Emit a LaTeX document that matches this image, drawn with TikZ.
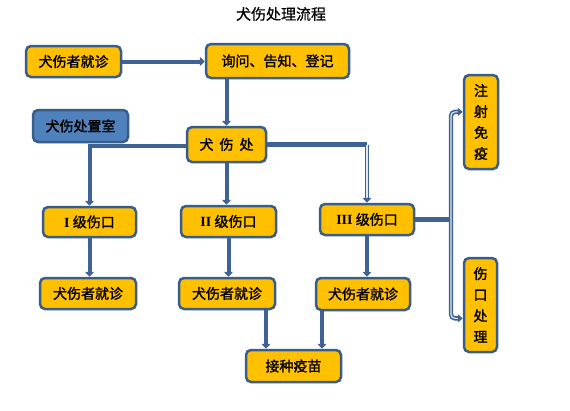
\documentclass[tikz,border=0pt]{standalone}
\usepackage{fontspec}
\newfontfamily\cjk[FakeBold=1.6]{Noto Sans CJK SC}
\newfontfamily\cjkt[FakeBold=0.6]{Noto Sans CJK SC}
\newfontfamily\numf{Liberation Serif}
\usetikzlibrary{arrows.meta,calc}
\definecolor{gold}{RGB}{255,192,0}
\definecolor{edge}{RGB}{56,93,138}
\definecolor{steel}{RGB}{79,129,189}
\definecolor{conn}{RGB}{62,98,148}

\begin{document}
\begin{tikzpicture}[x=1pt, y=-1pt,
  box/.style={draw=edge, fill=gold, line width=2.5pt, rounded corners=5pt,
    inner sep=0pt, font=\cjk\fontsize{14}{21}\selectfont, align=center},
  room/.style={box, fill=steel},
  flow/.style={conn, line width=4pt, -{Triangle[width=9pt,length=5pt]}},
  bar/.style={conn, line width=5pt},
  link/.style={conn, line width=1.6pt, double=white!85!conn, double distance=1.2pt},
]
  \useasboundingbox (0,0) rectangle (570,410);

  \node[font=\cjkt\fontsize{15}{18}\selectfont] (title) at (281,14) {犬伤处理流程};

  \node[box, minimum width=95pt, minimum height=31pt] (visit) at (73.5,61.5) {犬伤者就诊};
  \node[box, minimum width=143pt, minimum height=34pt] (reg) at (277.5,61) {询问、告知、登记};
  \node[room, minimum width=95pt, minimum height=32pt] (room) at (80.5,126) {犬伤处置室};
  \node[box, minimum width=79pt, minimum height=35pt] (dept) at (226.5,144.5) {犬\hspace{6pt}伤\hspace{6pt}处};

  \node[box, minimum width=93pt, minimum height=30pt] (g1) at (89.5,222) {{\numf\bfseries I} 级伤口};
  \node[box, minimum width=95pt, minimum height=31pt] (g2) at (228.5,221.5) {{\numf\bfseries II} 级伤口};
  \node[box, minimum width=94pt, minimum height=31pt] (g3) at (367,219.5) {{\numf\bfseries III} 级伤口};

  \node[box, minimum width=96pt, minimum height=31pt] (v1) at (88,293.5) {犬伤者就诊};
  \node[box, minimum width=96pt, minimum height=31pt] (v2) at (227,293.5) {犬伤者就诊};
  \node[box, minimum width=94pt, minimum height=32pt] (v3) at (363,294) {犬伤者就诊};
  \node[box, minimum width=95pt, minimum height=32pt] (vac) at (293.5,366) {接种疫苗};

  \node[box, minimum width=34pt, minimum height=94pt] (imm) at (481,122) {注\\射\\免\\疫};
  \node[box, minimum width=33pt, minimum height=94pt] (wound) at (480.5,305) {伤\\口\\处\\理};

  \coordinate (fork) at (451,216);

  \draw[flow] (visit.east) -- (visit.east -| reg.west);
  \draw[flow] (reg.south -| dept.north) -- (dept.north);
  \draw[flow] ($(dept.west)+(0,1.5)$) -| (g1.north);
  \draw[flow] (dept.south) -- (dept.south |- g2.north);
  \draw[bar] (dept.east) -- (dept.east -| g3.north);
  \draw[link, -{Triangle[width=9pt,length=5pt]}] (dept.east -| g3.north) -- (g3.north);

  \draw[flow] (g1.south) -- (g1.south |- v1.north);
  \draw[flow] (g2.south) -- (g2.south |- v2.north);
  \draw[flow] (g3.south) -- (g3.south |- v3.north);

  \draw[flow] ($(v2.south)+(39,0)$) -- ($(vac.north)+(-27.5,0)$);
  \draw[flow] ($(v3.south)+(-41,0)$) -- ($(vac.north)+(28.5,0)$);

  \draw[bar] (g3.east) -- (g3.east -| fork);
  \draw[link, rounded corners=4pt, {Triangle[width=8pt,length=5pt]}-{Triangle[width=8pt,length=5pt]}]
    (imm.151) -| (fork) |- (wound.217);
\end{tikzpicture}
\end{document}
